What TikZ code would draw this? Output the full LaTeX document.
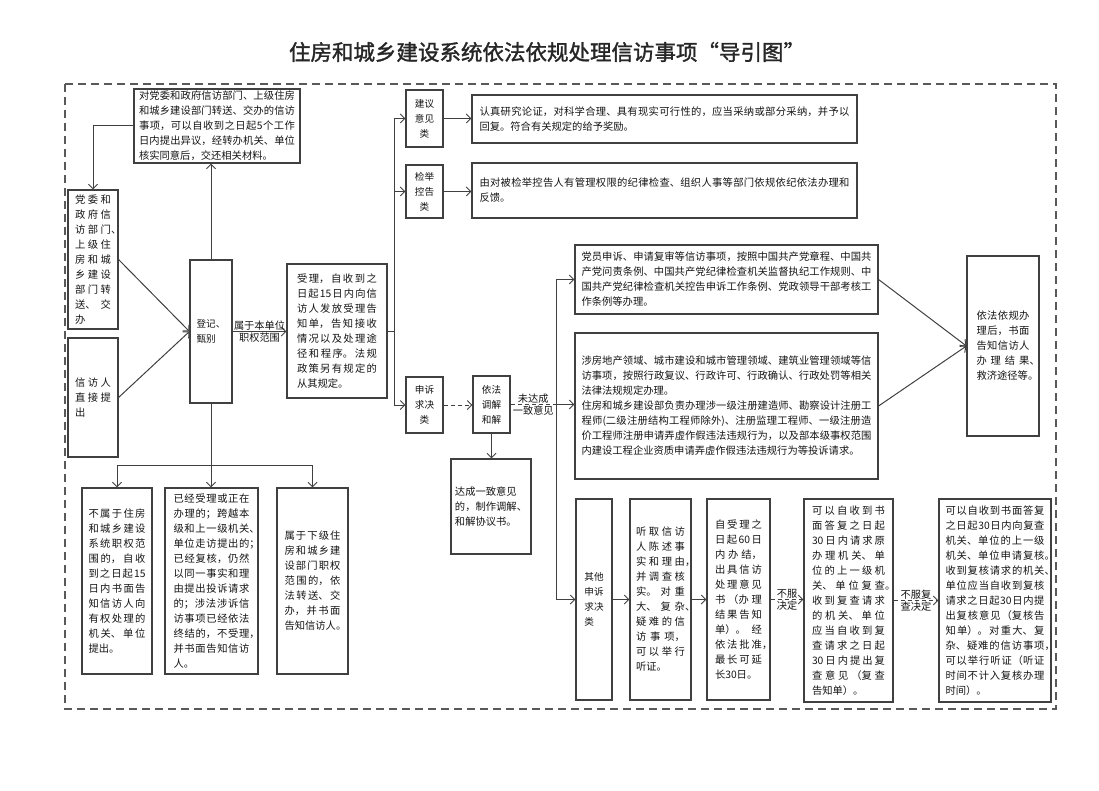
\documentclass[tikz,border=0pt]{standalone}
\usepackage{fontspec}
\setmainfont{Noto Sans CJK SC}
\newfontfamily\titlefont[FakeBold=1.5]{Noto Sans CJK SC}
\usetikzlibrary{arrows.meta}
\XeTeXlinebreaklocale "zh"
\XeTeXlinebreakskip=0pt plus 8pt
\setlength\parindent{0pt}
\newcommand\hp[1]{\rlap{#1}}
\newcommand\mybox[7]{\node[box,#6,minimum width={#4-#2},minimum height={#5-#3}] (#1) at ({(#2+#4)/2},{(#3+#5)/2}) {#7};}
\begin{document}
\begin{tikzpicture}[x=1pt,y=-1pt,
  box/.style={draw=black!75,line width=1.1pt,inner sep=1pt,align=left,text=black!92,font=\fontsize{10.3}{15}\selectfont},
  jb/.style={align=justify,text width=#1},
  sm/.style={font=\fontsize{9.6}{15}\selectfont},
  ln/.style={draw=black!75,line width=1pt},
  arr/.style={ln,-{Straight Barb[length=4.5pt,width=9pt]}},
  lbl/.style={font=\fontsize{10.2}{12}\selectfont,inner sep=0.5pt,text=black!92},
  frame/.style={draw=black!65,line width=1.2pt,dash pattern=on 8pt off 5pt}
]
\useasboundingbox (0,0) rectangle (1099,791);
\node[font=\titlefont\fontsize{21.5}{24}\selectfont,text=black!85] (title) at (547,52) {住房和城乡建设系统依法依规处理信访事项“导引图”};
\draw[frame] (65,84) rectangle (1056,709);

\mybox{A}{134}{89}{300}{163}{jb=156}{对党委和政府信访部门、上级住房\linebreak 和城乡建设部门转送、交办的信访\linebreak 事项，可以自收到之日起5个工作\linebreak 日内提出异议，经转办机关、单位\linebreak 核实同意后，交还相关材料。}
\mybox{B}{68}{190}{118}{329}{jb=36}{党委和\linebreak 政府信\linebreak 访部门\hp{、}\linebreak 上级住\linebreak 房和城\linebreak 乡建设\linebreak 部门转\linebreak 送、交\linebreak 办}
\mybox{C}{68}{338}{118}{457}{jb=36}{信访人\linebreak 直接提\linebreak 出}
\mybox{D}{190}{260}{232}{403}{sm}{登记、\\甄别}
\mybox{E}{287}{264}{387}{398}{jb=80}{受理，自收到之\linebreak 日起15日内向信\linebreak 访人发放受理告\linebreak 知单，告知接收\linebreak 情况以及处理途\linebreak 径和程序。法规\linebreak 政策另有规定的\linebreak 从其规定。}

\mybox{F1}{406}{90}{443}{147}{sm,align=center}{建议\\意见\\类}
\mybox{G1}{472}{95}{857}{143}{jb=370}{认真研究论证，对科学合理、具有现实可行性的，应当采纳或部分采纳，并予以\linebreak 回复。符合有关规定的给予奖励。}
\mybox{F2}{406}{165}{443}{218}{sm,align=center}{检举\\控告\\类}
\mybox{G2}{472}{163}{857}{218}{jb=370}{由对被检举控告人有管理权限的纪律检查、组织人事等部门依规依纪依法办理和\linebreak 反馈。}
\mybox{F3}{406}{377}{443}{433}{sm,align=center}{申诉\\求决\\类}
\mybox{H}{473}{376}{510}{433}{sm}{依法\\调解\\和解}
\mybox{I}{451}{459}{531}{554}{}{达成一致意见\\的，制作调解、\\和解协议书。}

\mybox{J1}{575}{245}{878}{314}{jb=290}{党员申诉、申请复审等信访事项，按照中国共产党章程、中国共\linebreak 产党问责条例、中国共产党纪律检查机关监督执纪工作规则、中\linebreak 国共产党纪律检查机关控告申诉工作条例、党政领导干部考核工\linebreak 作条例等办理。}
\mybox{J2}{575}{333}{878}{479}{jb=290}{涉房地产领域、城市建设和城市管理领域、建筑业管理领域等信\linebreak 访事项，按照行政复议、行政许可、行政确认、行政处罚等相关\linebreak 法律法规规定办理。\\住房和城乡建设部负责办理涉一级注册建造师、勘察设计注册工\linebreak 程师(二级注册结构工程师除外)、注册监理工程师、一级注册造\linebreak 价工程师注册申请弄虚作假违法违规行为，以及部本级事权范围\linebreak 内建设工程企业资质申请弄虚作假违法违规行为等投诉请求。}
\mybox{L}{967}{256}{1039}{436}{jb=53}{依法依规办\linebreak 理后，书面\linebreak 告知信访人\linebreak 办理结果\hp{、}\linebreak 救济途径等\hp{。}}

\mybox{M1}{82}{488}{152}{674}{jb=57}{不属于住房\linebreak 和城乡建设\linebreak 系统职权范\linebreak 围的，自收\linebreak 到之日起15\linebreak 日内书面告\linebreak 知信访人向\linebreak 有权处理的\linebreak 机关、单位\linebreak 提出。}
\mybox{M2}{165}{488}{258}{674}{jb=76}{已经受理或正在\linebreak 办理的；跨越本\linebreak 级和上一级机关\hp{、}\linebreak 单位走访提出的\hp{；}\linebreak 已经复核，仍然\linebreak 以同一事实和理\linebreak 由提出投诉请求\linebreak 的；涉法涉诉信\linebreak 访事项已经依法\linebreak 终结的，不受理\hp{，}\linebreak 并书面告知信访\linebreak 人。}
\mybox{M3}{277}{488}{348}{674}{jb=56}{属于下级住\linebreak 房和城乡建\linebreak 设部门职权\linebreak 范围的，依\linebreak 法转送、交\linebreak 办，并书面\linebreak 告知信访人\hp{。}}

\mybox{K}{576}{499}{612}{700}{sm}{其他\\申诉\\求决\\类}
\mybox{N}{630}{499}{691}{700}{jb=49}{听取信访\linebreak 人陈述事\linebreak 实和理由\hp{，}\linebreak 并调查核\linebreak 实。对重\linebreak 大、复杂\hp{、}\linebreak 疑难的信\linebreak 访事项，\linebreak 可以举行\linebreak 听证。}
\mybox{O}{707}{499}{770}{700}{jb=47}{自受理之\linebreak 日起60日\linebreak 内办结，\linebreak 出具信访\linebreak 处理意见\linebreak 书（办理\linebreak 结果告知\linebreak 单）。经\linebreak 依法批准\hp{，}\linebreak 最长可延\linebreak 长30日。}
\mybox{P}{804}{499}{893}{702}{jb=73}{可以自收到书\linebreak 面答复之日起\linebreak 30日内请求原\linebreak 办理机关、单\linebreak 位的上一级机\linebreak 关、单位复查\hp{。}\linebreak 收到复查请求\linebreak 的机关、单位\linebreak 应当自收到复\linebreak 查请求之日起\linebreak 30日内提出复\linebreak 查意见（复查\linebreak 告知单）。}
\mybox{Q}{939}{499}{1051}{702}{jb=99}{可以自收到书面答复\linebreak 之日起30日内向复查\linebreak 机关、单位的上一级\linebreak 机关、单位申请复核\hp{。}\linebreak 收到复核请求的机关\hp{、}\linebreak 单位应当自收到复核\linebreak 请求之日起30日内提\linebreak 出复核意见（复核告\linebreak 知单）。对重大、复\linebreak 杂、疑难的信访事项\hp{，}\linebreak 可以举行听证（听证\linebreak 时间不计入复核办理\linebreak 时间）。}

% left part connectors
\draw[arr] (D.north) -- (D.north |- A.south);
\draw[arr] (A.west) -| (B.north);
\draw[arr] (B.east) -- (D.west);
\draw[arr] (C.east) -- (D.west);
\draw[arr] (D.east) -- (D.east -| E.west)
  node[midway,above,lbl] {属于本单位} node[midway,below,lbl] {职权范围};
\draw[ln] (D.south) -- ++(0,62) coordinate (b3);
\draw[arr] (b3) -| (M1.north);
\draw[arr] (b3) -| (M3.north);
\draw[arr] (b3) -- (b3 |- M2.north);

% middle bus
\coordinate (b1) at (394,331);
\draw[ln] (E.east) -- (b1);
\draw[arr] (b1) |- (F1.west);
\draw[arr] (b1) |- (F2.west);
\draw[arr] (b1) |- (F3.west);
\draw[arr] (F1.east) -- (F1.east -| G1.west);
\draw[arr] (F2.east) -- (F2.east -| G2.west);
\draw[arr,dash pattern=on 4pt off 3pt] (F3.east) -- (F3.east -| H.west);
\draw[arr] (H.south) -- (H.south |- I.north);

% right bus
\coordinate (b2) at (556,404.5);
\draw[ln,dash pattern=on 4pt off 3pt] (H.east) -- (b2)
  node[midway,above,lbl] {未达成} node[midway,below,lbl] {一致意见};
\draw[arr] (b2) -- (b2 -| J2.west);
\draw[arr] (b2) |- (J1.west);
\draw[arr] (b2) |- (K.west);
\draw[arr] (J1.east) -- (L.west);
\draw[arr] (J2.east) -- (L.west);

% bottom chain
\draw[arr] (K.east) -- (K.east -| N.west);
\draw[arr] (N.east) -- (N.east -| O.west);
\draw[arr,dash pattern=on 4pt off 3pt] (O.east) -- (O.east -| P.west)
  node[midway,above,lbl] {不服} node[midway,below,lbl] {决定};
\draw[arr,dash pattern=on 4pt off 3pt] (P.east) -- (P.east -| Q.west)
  node[midway,above,lbl] {不服复} node[midway,below,lbl] {查决定};
\end{tikzpicture}
\end{document}
